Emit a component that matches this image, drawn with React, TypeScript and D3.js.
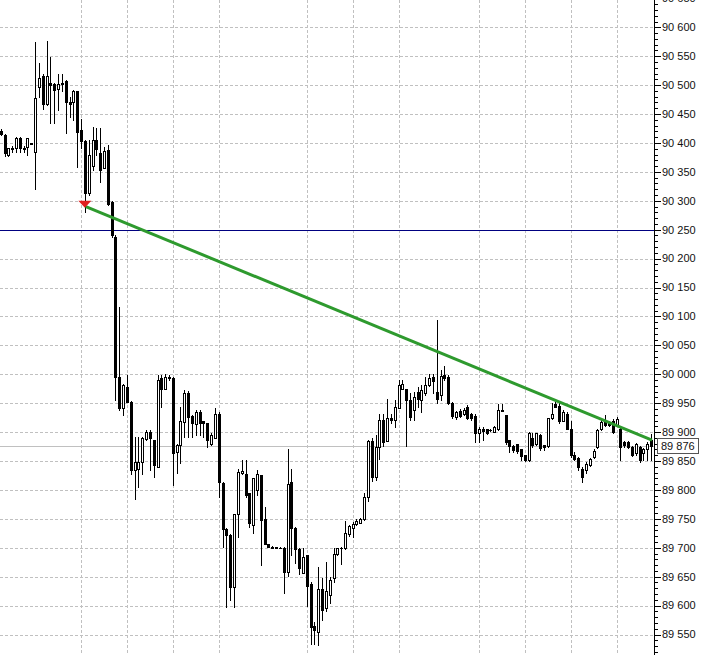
import React from "react";
import * as d3 from "d3";

// OHLC in points (e.g. 90420 = "90 420")
const opens = [
  90420, 90414, 90379, 90392, 90391, 90409, 90392, 90393, 90400, 90384,
  90496, 90515, 90468, 90503, 90502, 90494, 90503, 90507, 90471, 90470,
  90489, 90422, 90403, 90313, 90360, 90405, 90382, 90357, 90388, 90298,
  90238, 89996, 89941, 89978, 89952, 89834, 89836, 89848, 89888, 89900,
  89886, 89840, 89993, 89975, 89995, 89993, 89866, 89877, 89918, 89967,
  89928, 89914, 89935, 89919, 89915, 89880, 89889, 89932, 89812, 89733,
  89722, 89632, 89759, 89829, 89828, 89794, 89739, 89800, 89825, 89749,
  89706, 89702, 89701, 89700, 89700, 89658, 89814, 89735, 89697, 89657,
  89687, 89637, 89564, 89554, 89628, 89595, 89618, 89647, 89690, 89699,
  89699, 89723, 89735, 89741, 89743, 89749, 89787, 89885, 89823, 89875,
  89921, 89885, 89924, 89921, 89941, 89975, 89974, 89955, 89938, 89970,
  89956, 89968, 89981, 89996, 89970, 89964, 89998, 89996, 89951, 89926,
  89936, 89932, 89944, 89931, 89928, 89899, 89906, 89905, 89904, 89901,
  89906, 89938, 89929, 89886, 89876, 89879, 89870, 89860, 89852, 89889,
  89879, 89895, 89877, 89876, 89924, 89948, 89945, 89920, 89932, 89906,
  89860, 89855, 89837, 89834, 89843, 89857, 89874, 89906, 89920, 89917,
  89920, 89912, 89906, 89883, 89883, 89874, 89863, 89874, 89863, 89871,
  89886,
];
const highs = [
  90424, 90416, 90392, 90394, 90411, 90411, 90394, 90409, 90400, 90575,
  90538, 90520, 90576, 90549, 90504, 90520, 90520, 90509, 90480, 90491,
  90490, 90442, 90405, 90405, 90428, 90425, 90425, 90393, 90396, 90300,
  90240, 90117, 89984, 89998, 89954, 89892, 89892, 89892, 89903, 89903,
  89886, 89998, 89998, 90000, 89998, 89996, 89880, 89943, 89972, 89971,
  89929, 89938, 89938, 89920, 89916, 89898, 89941, 89935, 89813, 89734,
  89723, 89758, 89837, 89851, 89851, 89795, 89820, 89834, 89826, 89771,
  89707, 89703, 89702, 89701, 89701, 89870, 89837, 89736, 89699, 89699,
  89688, 89641, 89572, 89667, 89647, 89675, 89650, 89699, 89700, 89701,
  89746, 89740, 89745, 89750, 89752, 89795, 89886, 89890, 89895, 89931,
  89931, 89958, 89932, 89955, 89990, 89990, 89975, 89967, 89970, 89978,
  89981, 89996, 90001, 90001, 90094, 90007, 90014, 89999, 89952, 89937,
  89940, 89942, 89946, 89933, 89932, 89908, 89908, 89906, 89905, 89910,
  89948, 89948, 89930, 89887, 89877, 89880, 89871, 89861, 89901, 89899,
  89899, 89896, 89878, 89924, 89950, 89952, 89950, 89938, 89934, 89920,
  89866, 89857, 89840, 89848, 89856, 89870, 89906, 89921, 89929, 89919,
  89922, 89926, 89908, 89885, 89884, 89876, 89882, 89876, 89873, 89883,
  89897,
];
const lows = [
  90413, 90378, 90377, 90384, 90384, 90385, 90384, 90380, 90399, 90321,
  90480, 90458, 90466, 90434, 90434, 90457, 90489, 90417, 90445, 90440,
  90359, 90391, 90280, 90310, 90353, 90379, 90333, 90356, 90293, 90238,
  89955, 89938, 89929, 89952, 89828, 89785, 89805, 89828, 89886, 89834,
  89822, 89840, 89944, 89975, 89990, 89808, 89830, 89846, 89892, 89892,
  89892, 89895, 89895, 89892, 89875, 89877, 89889, 89788, 89701, 89598,
  89610, 89598, 89719, 89828, 89788, 89736, 89725, 89791, 89670, 89706,
  89701, 89700, 89699, 89699, 89621, 89652, 89687, 89673, 89655, 89656,
  89599, 89533, 89533, 89531, 89575, 89590, 89605, 89640, 89688, 89672,
  89698, 89720, 89718, 89740, 89742, 89748, 89780, 89815, 89817, 89854,
  89876, 89885, 89915, 89909, 89941, 89974, 89876, 89921, 89921, 89944,
  89935, 89965, 89980, 89967, 89951, 89955, 89990, 89948, 89925, 89922,
  89926, 89930, 89922, 89921, 89883, 89883, 89886, 89897, 89902, 89900,
  89903, 89937, 89880, 89866, 89866, 89863, 89852, 89850, 89850, 89875,
  89878, 89869, 89869, 89875, 89923, 89943, 89915, 89919, 89905, 89857,
  89852, 89834, 89814, 89830, 89842, 89855, 89872, 89904, 89910, 89910,
  89898, 89910, 89851, 89875, 89872, 89858, 89860, 89849, 89851, 89851,
  89851,
];
const closes = [
  90416, 90382, 90391, 90389, 90409, 90392, 90390, 90408, 90399, 90478,
  90513, 90468, 90515, 90500, 90491, 90502, 90502, 90471, 90468, 90489,
  90419, 90404, 90313, 90380, 90405, 90389, 90353, 90386, 90295, 90240,
  89996, 89941, 89981, 89952, 89834, 89848, 89848, 89890, 89900, 89889,
  89843, 89990, 89975, 89996, 89994, 89863, 89877, 89920, 89968, 89926,
  89915, 89935, 89916, 89916, 89886, 89895, 89932, 89814, 89733, 89722,
  89632, 89758, 89831, 89833, 89791, 89742, 89820, 89828, 89748, 89706,
  89702, 89700, 89700, 89700, 89658, 89810, 89735, 89697, 89665, 89684,
  89634, 89563, 89557, 89628, 89593, 89625, 89645, 89689, 89699, 89700,
  89725, 89737, 89741, 89746, 89749, 89787, 89884, 89823, 89875, 89921,
  89883, 89924, 89921, 89944, 89981, 89983, 89955, 89926, 89961, 89958,
  89973, 89981, 89993, 89989, 89958, 89997, 89993, 89951, 89928, 89935,
  89928, 89939, 89925, 89924, 89898, 89906, 89902, 89899, 89903, 89908,
  89938, 89937, 89883, 89876, 89869, 89868, 89858, 89852, 89898, 89877,
  89898, 89872, 89875, 89924, 89932, 89944, 89920, 89935, 89906, 89860,
  89854, 89840, 89822, 89845, 89854, 89868, 89904, 89918, 89912, 89912,
  89900, 89923, 89874, 89877, 89874, 89860, 89880, 89851, 89871, 89880,
  89876,
];

// vertical period separators (bar indices)
const separatorBars = [21, 33, 45, 57, 80, 92, 104, 125, 137, 149, 161];

// price scale labels shown on the right axis
const labelTicks = [
  89550, 89600, 89650, 89700, 89750, 89800, 89850, 89900, 89950, 90000,
  90050, 90100, 90150, 90200, 90250, 90300, 90350, 90400, 90450, 90500,
  90550, 90600, 90650,
];

// horizontal levels
const levelLine = 90250;
const bidPrice = 89876;
const trendStart = { bar: 22, price: 90290 };
const trendEnd = { bar: 170, price: 89886 };
const sellArrow = { bar: 22, price: 90288 };

const W = 701;
const H = 655;
const AXIS_X = 654;

const fmt = (v: number) =>
  `${Math.floor(v / 1000)} ${String(v % 1000).padStart(3, "0")}`;

export default function App() {
  const n = opens.length;
  const x = d3.scaleLinear().domain([0, n - 1]).range([0.7, 651]);
  const y = d3.scaleLinear().domain([89550, 90600]).range([634.5, 27.3]);

  const gridTicks = d3.range(89500, 90651, 50);
  const minorTicks = d3.range(89500, 90651, 10);
  const py = (v: number) => Math.round(y(v)) + 0.5;

  const candles = opens.map((o, i) => {
    const c = closes[i];
    const h = highs[i];
    const l = lows[i];
    const cx = Math.round(x(i));
    const yTop = Math.round(y(Math.max(o, c)));
    const yBot = Math.round(y(Math.min(o, c)));
    const bull = c > o;
    const els: React.ReactNode[] = [];
    els.push(
      <line
        key="w"
        x1={cx + 0.5}
        x2={cx + 0.5}
        y1={Math.round(y(h))}
        y2={Math.round(y(l)) + 1}
        stroke="#000"
        strokeWidth={1}
      />
    );
    if (yBot - yTop < 1) {
      els.push(
        <line key="d" x1={cx - 1} x2={cx + 2} y1={yTop + 0.5} y2={yTop + 0.5} stroke="#000" strokeWidth={1} />
      );
    } else if (bull) {
      els.push(
        <rect
          key="b"
          x={cx - 0.5}
          y={yTop + 0.5}
          width={2}
          height={yBot - yTop}
          fill="#fff"
          stroke="#000"
          strokeWidth={1}
        />
      );
    } else {
      els.push(<rect key="b" x={cx - 1} y={yTop} width={3} height={yBot - yTop + 1} fill="#000" />);
    }
    return <g key={i}>{els}</g>;
  });

  const ax = x(sellArrow.bar);
  const ay = y(sellArrow.price);
  const arrowPath = d3.path();
  arrowPath.moveTo(ax - 6.5, ay - 7);
  arrowPath.lineTo(ax + 6.5, ay - 7);
  arrowPath.lineTo(ax, ay);
  arrowPath.closePath();

  const trend = d3
    .line<{ bar: number; price: number }>()
    .x((d) => x(d.bar) + 1)
    .y((d) => y(d.price))([trendStart, trendEnd]);

  return (
    <div style={{ position: "absolute", left: 0, top: 0, width: W, height: H, background: "#fff" }}>
      <svg width={W} height={H} style={{ display: "block" }} fontFamily="'Liberation Sans', Arial, sans-serif">
        <rect x={0} y={0} width={W} height={H} fill="#fff" />
        {/* horizontal grid */}
        {gridTicks.map((t) => (
          <line key={"hg" + t} x1={0} x2={AXIS_X} y1={py(t)} y2={py(t)} stroke="#c0c0c0" strokeDasharray="3,2" />
        ))}
        {/* vertical grid */}
        {separatorBars.map((b) => (
          <line
            key={"vg" + b}
            x1={Math.round(x(b)) + 0.5}
            x2={Math.round(x(b)) + 0.5}
            y1={0}
            y2={H}
            stroke="#c0c0c0"
            strokeDasharray="3,2"
          />
        ))}
        {/* level line */}
        <line x1={0} x2={AXIS_X} y1={py(levelLine)} y2={py(levelLine)} stroke="#000080" strokeWidth={1} />
        {/* bid line */}
        <line x1={0} x2={AXIS_X} y1={py(bidPrice)} y2={py(bidPrice)} stroke="#c0c0c0" strokeWidth={1} />
        {/* candles */}
        <g shapeRendering="crispEdges">{candles}</g>
        {/* trendline */}
        <path d={trend || ""} stroke="#2e9a2e" strokeWidth={3} fill="none" />
        {/* sell arrow */}
        <path d={arrowPath.toString()} fill="#e02020" />
        {/* axis */}
        <rect x={AXIS_X + 1} y={0} width={W - AXIS_X - 1} height={H} fill="#fff" />
        <line x1={AXIS_X + 0.5} x2={AXIS_X + 0.5} y1={0} y2={H} stroke="#000" />
        {minorTicks.map((t) => (
          <line
            key={"mt" + t}
            x1={AXIS_X}
            x2={t % 50 === 0 ? AXIS_X + 7 : AXIS_X + 4}
            y1={py(t)}
            y2={py(t)}
            stroke="#000"
            shapeRendering="crispEdges"
          />
        ))}
        {labelTicks.map((t) => (
          <text key={"lb" + t} x={AXIS_X + 8} y={y(t)} dy="0.35em" fontSize={11} fill="#111">
            {fmt(t)}
          </text>
        ))}
        {/* bid label */}
        <rect x={657.5} y={Math.round(y(bidPrice)) - 7.5} width={41} height={15} fill="#fff" stroke="#555" />
        <text x={661} y={y(bidPrice)} dy="0.35em" fontSize={11} fill="#111">
          {fmt(bidPrice)}
        </text>
      </svg>
    </div>
  );
}
